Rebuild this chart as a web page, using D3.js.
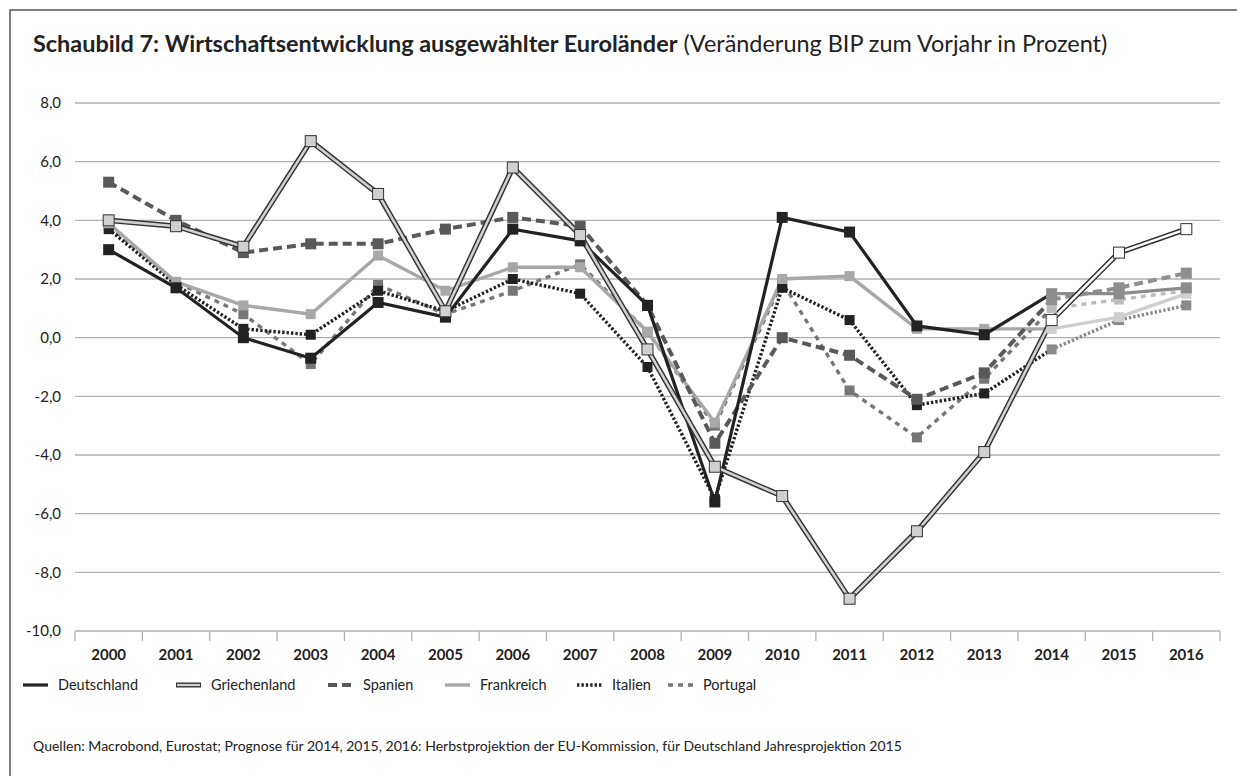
<!DOCTYPE html>
<html>
<head>
<meta charset="utf-8">
<script src="https://cdn.jsdelivr.net/npm/d3@7"></script>
<style>
  body { margin: 0; background: #fff; }
  svg { display: block; font-family: Lato, "Open Sans", sans-serif; }
</style>
</head>
<body>
<svg id="chart" width="1237" height="776"></svg>
<script>
var years = ["2000","2001","2002","2003","2004","2005","2006","2007","2008","2009","2010","2011","2012","2013","2014","2015","2016"];
var deutschland  = [3.0, 1.7, 0.0, -0.7, 1.2, 0.7, 3.7, 3.3, 1.1, -5.6, 4.1, 3.6, 0.4, 0.1, 1.5, 1.5, 1.7];
var griechenland = [4.0, 3.8, 3.1, 6.7, 4.9, 0.9, 5.8, 3.5, -0.4, -4.4, -5.4, -8.9, -6.6, -3.9, 0.6, 2.9, 3.7];
var spanien      = [5.3, 4.0, 2.9, 3.2, 3.2, 3.7, 4.1, 3.8, 1.1, -3.6, 0.0, -0.6, -2.1, -1.2, 1.3, 1.7, 2.2];
var frankreich   = [3.9, 1.9, 1.1, 0.8, 2.8, 1.6, 2.4, 2.4, 0.2, -2.9, 2.0, 2.1, 0.3, 0.3, 0.3, 0.7, 1.5];
var italien      = [3.7, 1.8, 0.3, 0.1, 1.6, 0.9, 2.0, 1.5, -1.0, -5.5, 1.7, 0.6, -2.3, -1.9, -0.4, 0.6, 1.1];
var portugal     = [3.8, 1.9, 0.8, -0.9, 1.8, 0.8, 1.6, 2.5, 0.2, -3.0, 1.9, -1.8, -3.4, -1.4, 1.0, 1.3, 1.6];
var yTicks = [8, 6, 4, 2, 0, -2, -4, -6, -8, -10];
var forecastStart = "2014";

var titleBold = "Schaubild 7: Wirtschaftsentwicklung ausgewählter Euroländer";
var titleRest = " (Veränderung BIP zum Vorjahr in Prozent)";
var sourceText = "Quellen: Macrobond, Eurostat; Prognose für 2014, 2015, 2016: Herbstprojektion der EU-Kommission, für Deutschland Jahresprojektion 2015";

// Darstellung je Land (Zeichenreihenfolge = Reihenfolge hier)
var series = [
  { name: "Portugal",     values: portugal,     color: "#777", fc: "#bdbdbd", w: 3.4, dash: "5,5",   ms: 10 },
  { name: "Italien",      values: italien,      color: "#222", fc: "#8a8a8a", w: 3.4, dash: "2.4,2", ms: 10 },
  { name: "Frankreich",   values: frankreich,   color: "#a8a8a8", fc: "#cfcfcf", w: 3.4, dash: null, ms: 10 },
  { name: "Spanien",      values: spanien,      color: "#595959", fc: "#8f8f8f", w: 4, dash: "9,5",  ms: 11 },
  { name: "Deutschland",  values: deutschland,  color: "#222", fc: "#8c8c8c", w: 3.2, dash: null,    ms: 11 },
  { name: "Griechenland", values: griechenland, color: "#333", fc: "#333", w: 5.5, dash: null, ms: 11, inner: "#d0d0d0", innerFc: "#fff" }
];
var legendOrder = ["Deutschland", "Griechenland", "Spanien", "Frankreich", "Italien", "Portugal"];
var legendX = [23, 176, 328, 445, 577, 668];

var svg = d3.select("#chart");
var plotL = 75, plotR = 1220, plotT = 103, plotB = 631;

var x = d3.scaleBand().domain(years).range([plotL, plotR]);
var y = d3.scaleLinear().domain([-10, 8]).range([plotB, plotT]);
var cx = function (yr) { return x(yr) + x.bandwidth() / 2; };
var fmt = d3.formatLocale({ decimal: ",", thousands: ".", grouping: [3], currency: ["", "€"], minus: "-" }).format(".1f");

// Rahmen oben und links
svg.append("path")
  .attr("d", "M10,776 V10 H1237")
  .attr("fill", "none")
  .attr("stroke", "#555")
  .attr("stroke-width", 1.5);

// Titel
var title = svg.append("text").attr("x", 33).attr("y", 52).style("font-size", "20px").attr("fill", "#222");
title.append("tspan").attr("font-weight", "bold").text(titleBold);
title.append("tspan").text(titleRest);
(function fit() {
  var w = title.node().getComputedTextLength();
  title.style("font-size", (20 * 1075 / w) + "px");
})();

// Gitternetz
svg.append("g")
  .selectAll("line")
  .data(yTicks)
  .enter()
  .append("line")
  .attr("x1", plotL).attr("x2", plotR)
  .attr("y1", d => y(d)).attr("y2", d => y(d))
  .attr("stroke", "#b0b0b0")
  .attr("stroke-width", 1.3);

svg.append("g")
  .selectAll("text")
  .data(yTicks)
  .enter()
  .append("text")
  .attr("x", 61)
  .attr("y", d => y(d))
  .attr("dy", "0.35em")
  .attr("text-anchor", "end")
  .style("font-size", "15px")
  .attr("fill", "#222")
  .text(d => fmt(d));

// Teilstriche an den Kategoriegrenzen
var bounds = years.map(d => x(d)).concat([plotR]);
svg.append("g")
  .selectAll("line")
  .data(bounds)
  .enter()
  .append("line")
  .attr("x1", d => d).attr("x2", d => d)
  .attr("y1", plotB).attr("y2", plotB + 10)
  .attr("stroke", "#b0b0b0")
  .attr("stroke-width", 1.3);

svg.append("g")
  .selectAll("text")
  .data(years)
  .enter()
  .append("text")
  .attr("x", d => cx(d))
  .attr("y", 660)
  .attr("text-anchor", "middle")
  .attr("font-weight", "bold")
  .style("font-size", "15px")
  .attr("fill", "#222")
  .text(d => d);

// Linien
var fi = years.indexOf(forecastStart);
var line = d3.line().x(d => cx(d.yr)).y(d => y(d.v));
var linesG = svg.append("g");
var markG = svg.append("g");

series.forEach(function (s) {
  var pts = s.values.map((v, i) => ({ yr: years[i], v: v, i: i }));
  var hist = pts.slice(0, fi + 1);
  var prog = pts.slice(fi);
  var g = linesG.append("g");
  [[hist, s.color, s.inner], [prog, s.fc, s.innerFc]].forEach(function (p) {
    g.append("path")
      .attr("d", line(p[0]))
      .attr("fill", "none")
      .attr("stroke", p[1])
      .attr("stroke-width", s.w)
      .attr("stroke-dasharray", s.dash)
      .attr("stroke-linejoin", "miter");
    if (p[2]) {
      g.append("path")
        .attr("d", line(p[0]))
        .attr("fill", "none")
        .attr("stroke", p[2])
        .attr("stroke-width", 2.6);
    }
  });
  markG.append("g")
    .selectAll("rect")
    .data(pts)
    .enter()
    .append("rect")
    .attr("x", d => cx(d.yr) - s.ms / 2)
    .attr("y", d => y(d.v) - s.ms / 2)
    .attr("width", s.ms)
    .attr("height", s.ms)
    .attr("fill", d => s.inner ? (d.i >= fi ? s.innerFc : s.inner) : (d.i >= fi ? s.fc : s.color))
    .attr("stroke", s.inner ? "#333" : "none")
    .attr("stroke-width", 1);
});

// Legende
var legY = 685;
var leg = svg.append("g");
legendOrder.forEach(function (name, k) {
  var s = series.find(d => d.name === name);
  var x0 = legendX[k];
  leg.append("line")
    .attr("x1", x0).attr("x2", x0 + 25)
    .attr("y1", legY).attr("y2", legY)
    .attr("stroke", s.color)
    .attr("stroke-width", s.inner ? 5 : s.w)
    .attr("stroke-dasharray", s.dash);
  if (s.inner) {
    leg.append("line")
      .attr("x1", x0 + 1).attr("x2", x0 + 24)
      .attr("y1", legY).attr("y2", legY)
      .attr("stroke", s.inner)
      .attr("stroke-width", 2.2);
  }
  leg.append("text")
    .attr("x", x0 + 35)
    .attr("y", legY)
    .attr("dy", "0.35em")
    .style("font-size", "14.5px")
    .attr("fill", "#222")
    .text(name);
});

// Quelle
var src = svg.append("text")
  .attr("x", 33).attr("y", 751)
  .style("font-size", "12px")
  .attr("fill", "#222")
  .text(sourceText);
(function fitSrc() {
  var w = src.node().getComputedTextLength();
  src.style("font-size", (12 * 870 / w) + "px");
})();
</script>
</body>
</html>
